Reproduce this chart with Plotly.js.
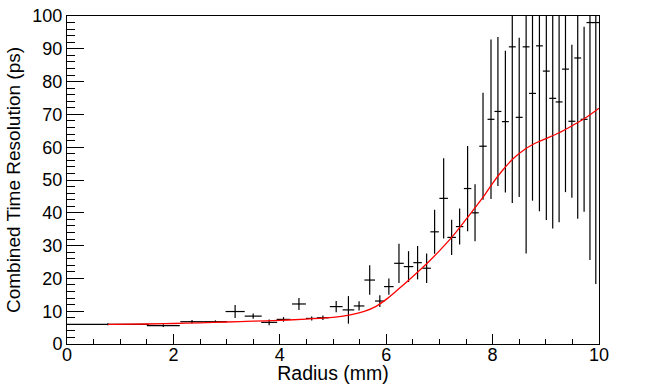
<!DOCTYPE html>
<html>
<head>
<meta charset="utf-8">
<script src="https://cdn.plot.ly/plotly-3.0.1.min.js"></script>
<style>html,body{margin:0;padding:0;background:#fff;}#chart{width:646px;height:384px;}</style>
</head>
<body>
<div id="chart"></div>
<script>
// Measured points (radius in mm, combined time resolution in ps)
const radius = [0.77,1.81,2.35,2.79,3.16,3.50,3.80,4.07,4.36,4.60,4.81,5.06,5.29,5.49,5.69,5.88,6.05,6.24,6.42,6.59,6.76,6.91,7.08,7.23,7.38,7.53,7.67,7.82,7.97,8.10,8.24,8.37,8.50,8.63,8.75,8.88,9.01,9.13,9.25,9.37,9.49,9.60,9.72,9.83,9.94];
const radiusErr = [0.77,0.31,0.22,0.22,0.18,0.16,0.15,0.13,0.13,0.11,0.11,0.12,0.11,0.10,0.10,0.09,0.09,0.09,0.09,0.08,0.08,0.08,0.08,0.08,0.07,0.07,0.07,0.07,0.065,0.065,0.065,0.065,0.065,0.065,0.065,0.065,0.065,0.065,0.065,0.065,0.065,0.065,0.065,0.065,0.065];
const resolution = [6.0,5.6,6.8,6.8,9.9,8.5,6.6,7.5,12.2,7.8,8.0,11.4,10.4,11.6,19.5,13.1,17.5,24.6,23.6,24.8,23.1,34.2,44.4,32.5,35.8,47.4,40.0,60.3,68.5,70.9,67.8,90.6,69.1,90.6,76.4,90.9,83.2,74.9,73.8,83.8,67.9,87.2,68.5,98.0,98.0];
const resolutionErr = [0.3,0.4,0.5,0.4,2.0,0.8,0.9,0.7,1.8,0.6,0.7,1.7,4.2,1.4,4.5,1.8,2.5,6.0,4.7,5.1,4.5,6.7,12.2,5.4,5.5,13.0,8.7,16.3,24.3,22.7,21.6,47.6,24.3,63.0,32.7,50.4,45.4,39.7,36.7,37.5,23.3,49.0,28.2,72.4,79.7];

// Fit curve
const fitRadius = [0.77,1.5,2.0,2.5,3.0,3.5,4.0,4.5,5.0,5.3,5.6,5.8,6.0,6.2,6.5,6.8,7.0,7.23,7.5,7.8,8.0,8.2,8.4,8.6,8.8,9.0,9.25,9.5,9.75,10.0];
const fitResolution = [6.0,6.1,6.25,6.45,6.7,6.95,7.2,7.6,8.1,8.8,10.0,11.4,13.6,16.3,20.6,25.1,28.4,32.5,38.0,44.3,49.0,53.2,56.7,59.3,61.2,62.6,64.4,66.6,69.0,71.9];

const FONT = '"Liberation Sans", Arial, Helvetica, sans-serif';

const data = [
  {
    x: radius, y: resolution, type: 'scatter', mode: 'markers',
    marker: {size: 1, color: '#000'},
    error_x: {type: 'data', array: radiusErr, width: 0, thickness: 1.2, color: '#000'},
    error_y: {type: 'data', array: resolutionErr, width: 0, thickness: 1.2, color: '#000'},
    hoverinfo: 'x+y', showlegend: false
  },
  {
    x: fitRadius, y: fitResolution, type: 'scatter', mode: 'lines',
    line: {color: '#ff0000', width: 1.3, shape: 'spline', smoothing: 1},
    showlegend: false
  }
];

const layout = {
  width: 646, height: 384,
  margin: {l: 67, r: 47, t: 16, b: 40},
  paper_bgcolor: '#fff', plot_bgcolor: '#fff',
  font: {family: FONT, size: 18, color: '#000'},
  showlegend: false,
  xaxis: {
    range: [0, 10], dtick: 2, tick0: 0,
    showgrid: false, zeroline: false,
    showline: true, linecolor: '#000', linewidth: 1, mirror: true,
    ticks: 'inside', ticklen: 10, tickwidth: 1, tickcolor: '#000',
    ticklabelstandoff: -6,
    minor: {ticks: 'inside', dtick: 0.5, ticklen: 5, tickwidth: 1, tickcolor: '#000', showgrid: false},
    tickfont: {family: FONT, size: 18},
    title: {text: 'Radius (mm)', font: {family: FONT, size: 19.5}, standoff: 6}
  },
  yaxis: {
    range: [0, 100], dtick: 10, tick0: 0,
    showgrid: false, zeroline: false,
    showline: true, linecolor: '#000', linewidth: 1, mirror: true,
    ticks: 'inside', ticklen: 17, tickwidth: 1, tickcolor: '#000',
    minor: {ticks: 'inside', dtick: 2, ticklen: 8, tickwidth: 1, tickcolor: '#000', showgrid: false},
    tickfont: {family: FONT, size: 18},
    title: {text: 'Combined Time Resolution (ps)', font: {family: FONT, size: 19}, standoff: 6}
  }
};

Plotly.newPlot('chart', data, layout, {displayModeBar: false, staticPlot: true});
</script>
</body>
</html>
